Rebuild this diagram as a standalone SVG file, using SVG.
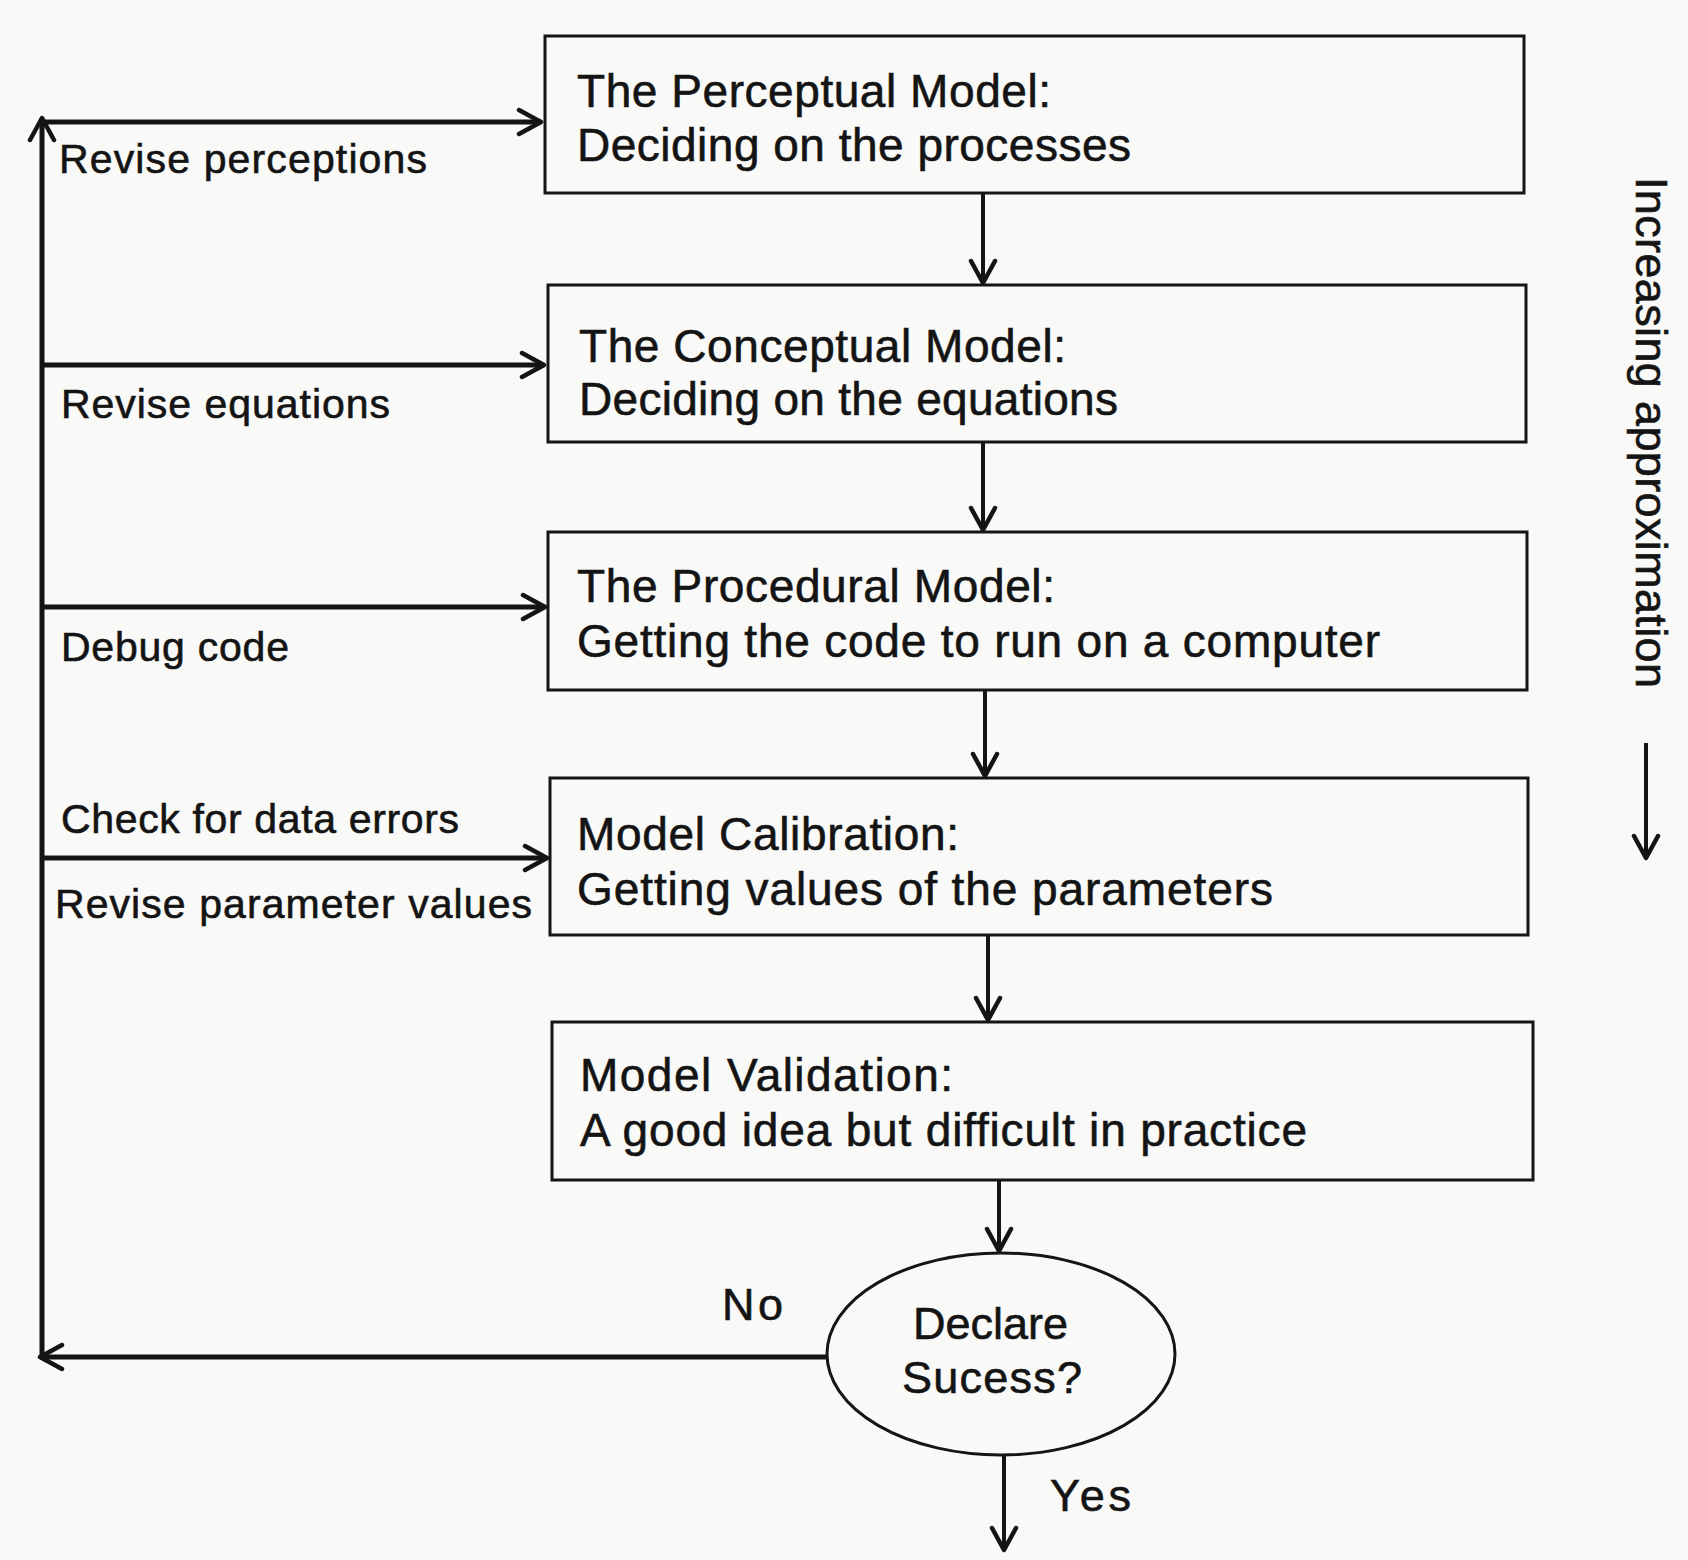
<svg xmlns="http://www.w3.org/2000/svg" width="1688" height="1560" viewBox="0 0 1688 1560">
<style>
.box{fill:none;stroke:#151515;stroke-width:3}
.t{font-family:"Liberation Sans",Arial,Helvetica,sans-serif;fill:#141414;stroke:#141414;stroke-width:0.6}
.bt{font-size:46px}
.dt{font-size:45px}
.lt{font-size:41px}
.c{fill:none;stroke:#141414;stroke-width:5;stroke-linecap:butt}
.cv{fill:none;stroke:#141414;stroke-width:4}
</style>
<defs>
<marker id="ah" viewBox="0 0 30 30" refX="27" refY="15" markerWidth="30" markerHeight="30" orient="auto" markerUnits="userSpaceOnUse">
<path d="M5,3 L27,15 L5,27" fill="none" stroke="#141414" stroke-width="4.5" stroke-linejoin="round" stroke-linecap="round"/>
</marker>
</defs>
<rect x="0" y="0" width="1688" height="1560" fill="#f9f9f7"/>

<g id="connectors">
<path class="c" d="M42,122 H541" marker-end="url(#ah)"/>
<path class="c" d="M42,365 H544" marker-end="url(#ah)"/>
<path class="c" d="M42,607 H545" marker-end="url(#ah)"/>
<path class="c" d="M42,858 H547" marker-end="url(#ah)"/>
<path class="c" d="M827,1357 H40" marker-end="url(#ah)"/>
<path class="c" d="M42,1359 V118" marker-end="url(#ah)"/>
<path class="cv" d="M983,193 V283" marker-end="url(#ah)"/>
<path class="cv" d="M983,443 V530" marker-end="url(#ah)"/>
<path class="cv" d="M985,691 V776" marker-end="url(#ah)"/>
<path class="cv" d="M988,936 V1020" marker-end="url(#ah)"/>
<path class="cv" d="M999,1181 V1251" marker-end="url(#ah)"/>
<path class="cv" d="M1004,1455 V1550" marker-end="url(#ah)"/>
<path class="cv" d="M1646,743 V858" marker-end="url(#ah)"/>
</g>

<g id="n1">
<rect class="box" x="545" y="36" width="979" height="157"/>
<text class="t bt" x="577" y="107" textLength="474" lengthAdjust="spacing">The Perceptual Model:</text>
<text class="t bt" x="577" y="161" textLength="554" lengthAdjust="spacing">Deciding on the processes</text>
</g>
<g id="n2">
<rect class="box" x="548" y="285" width="978" height="157"/>
<text class="t bt" x="579" y="362" textLength="487" lengthAdjust="spacing">The Conceptual Model:</text>
<text class="t bt" x="579" y="415" textLength="539" lengthAdjust="spacing">Deciding on the equations</text>
</g>
<g id="n3">
<rect class="box" x="548" y="532" width="979" height="158"/>
<text class="t bt" x="577" y="602" textLength="478" lengthAdjust="spacing">The Procedural Model:</text>
<text class="t bt" x="577" y="657" textLength="803" lengthAdjust="spacing">Getting the code to run on a computer</text>
</g>
<g id="n4">
<rect class="box" x="550" y="778" width="978" height="157"/>
<text class="t bt" x="577" y="850" textLength="382" lengthAdjust="spacing">Model Calibration:</text>
<text class="t bt" x="577" y="905" textLength="696" lengthAdjust="spacing">Getting values of the parameters</text>
</g>
<g id="n5">
<rect class="box" x="552" y="1022" width="981" height="158"/>
<text class="t bt" x="580" y="1091" textLength="373" lengthAdjust="spacing">Model Validation:</text>
<text class="t bt" x="580" y="1146" textLength="727" lengthAdjust="spacing">A good idea but difficult in practice</text>
</g>
<g id="n6">
<ellipse class="box" cx="1001" cy="1354" rx="174" ry="101"/>
<text class="t dt" x="913" y="1339" textLength="155" lengthAdjust="spacing">Declare</text>
<text class="t dt" x="902" y="1393" textLength="180" lengthAdjust="spacing">Sucess?</text>
</g>

<g id="labels">
<text class="t lt" x="59" y="173" textLength="368" lengthAdjust="spacing">Revise perceptions</text>
<text class="t lt" x="61" y="418" textLength="329" lengthAdjust="spacing">Revise equations</text>
<text class="t lt" x="61" y="661" textLength="228" lengthAdjust="spacing">Debug code</text>
<text class="t lt" x="61" y="833" textLength="398" lengthAdjust="spacing">Check for data errors</text>
<text class="t lt" x="55" y="918" textLength="477" lengthAdjust="spacing">Revise parameter values</text>
<text class="t dt" x="722" y="1320" textLength="61" lengthAdjust="spacing">No</text>
<text class="t dt" x="1050" y="1511" textLength="81" lengthAdjust="spacing">Yes</text>
<text class="t dt" x="1636" y="177" transform="rotate(90 1636 177)" textLength="511" lengthAdjust="spacing">Increasing approximation</text>
</g>
</svg>
